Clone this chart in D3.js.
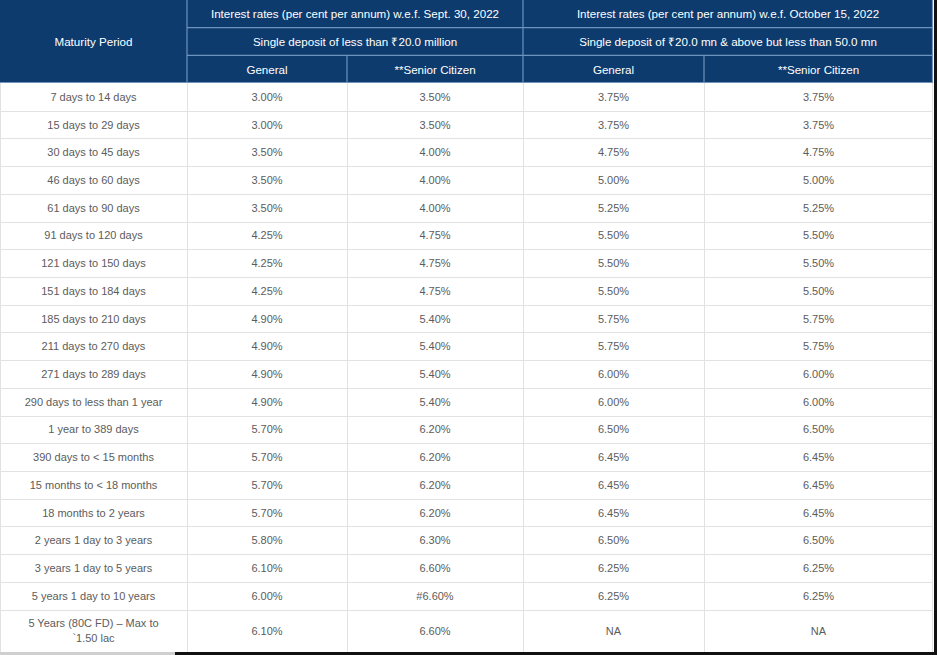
<!DOCTYPE html>
<html><head><meta charset="utf-8">
<script src="https://cdn.jsdelivr.net/npm/d3@7/dist/d3.min.js"></script>
<style>
html,body{margin:0;padding:0;background:#fff;overflow:hidden;}
svg{display:block;font-family:"Liberation Sans",Arial,sans-serif;}
</style></head>
<body>
<svg id="chart" width="937" height="655"></svg>
<script>
const periods = ["7 days to 14 days","15 days to 29 days","30 days to 45 days","46 days to 60 days","61 days to 90 days","91 days to 120 days","121 days to 150 days","151 days to 184 days","185 days to 210 days","211 days to 270 days","271 days to 289 days","290 days to less than 1 year","1 year to 389 days","390 days to < 15 months","15 months to < 18 months","18 months to 2 years","2 years 1 day to 3 years","3 years 1 day to 5 years","5 years 1 day to 10 years","5 Years (80C FD) – Max to\n`1.50 lac"];
const septGeneral = ["3.00%","3.00%","3.50%","3.50%","3.50%","4.25%","4.25%","4.25%","4.90%","4.90%","4.90%","4.90%","5.70%","5.70%","5.70%","5.70%","5.80%","6.10%","6.00%","6.10%"];
const septSenior = ["3.50%","3.50%","4.00%","4.00%","4.00%","4.75%","4.75%","4.75%","5.40%","5.40%","5.40%","5.40%","6.20%","6.20%","6.20%","6.20%","6.30%","6.60%","#6.60%","6.60%"];
const octGeneral = ["3.75%","3.75%","4.75%","5.00%","5.25%","5.50%","5.50%","5.50%","5.75%","5.75%","6.00%","6.00%","6.50%","6.45%","6.45%","6.45%","6.50%","6.25%","6.25%","NA"];
const octSenior = ["3.75%","3.75%","4.75%","5.00%","5.25%","5.50%","5.50%","5.50%","5.75%","5.75%","6.00%","6.00%","6.50%","6.45%","6.45%","6.45%","6.50%","6.25%","6.25%","NA"];
const headerTop = ["Interest rates (per cent per annum) w.e.f. Sept. 30, 2022","Interest rates (per cent per annum) w.e.f. October 15, 2022"];
const headerMid = ["Single deposit of less than ₹20.0 million","Single deposit of ₹20.0 mn & above but less than 50.0 mn"];
const headerSub = ["General","**Senior Citizen","General","**Senior Citizen"];
const firstHeader = "Maturity Period";

const svg = d3.select("#chart");
const W = 937, H = 655;
const tableRight = 933;
const colEdges = [0,187,347,523,704,tableRight];
const colX = i => colEdges[i];
const headerBg = "#0d3b6e", headerLine = "#6e93bd";
const hy = d3.scaleLinear().domain([0,3]).range([0,83]);
const nRegular = periods.length - 1;
const ry = d3.scaleLinear().domain([0,nRegular]).range([83,609.5]);
const rowTop = i => ry(i);
const rowBot = i => i < nRegular ? ry(i+1) : 652;

svg.append("rect").attr("x",0).attr("y",0).attr("width",tableRight).attr("height",hy(3)).attr("fill",headerBg);

const hl = svg.append("g").attr("stroke",headerLine).attr("stroke-width",1.2);
[1,2].forEach(r=>hl.append("line").attr("x1",colX(1)).attr("x2",tableRight).attr("y1",hy(r)).attr("y2",hy(r)));
hl.append("line").attr("x1",0).attr("x2",tableRight).attr("y1",hy(3)-0.5).attr("y2",hy(3)-0.5);
[1,3].forEach(c=>hl.append("line").attr("x1",colX(c)).attr("x2",colX(c)).attr("y1",0).attr("y2",hy(3)));
[2,4].forEach(c=>hl.append("line").attr("x1",colX(c)).attr("x2",colX(c)).attr("y1",hy(2)).attr("y2",hy(3)));
hl.append("line").attr("x1",tableRight-0.5).attr("x2",tableRight-0.5).attr("y1",0).attr("y2",hy(3));

const ht = svg.append("g").attr("fill","#fff").attr("font-size",11.6).attr("text-anchor","middle").attr("dominant-baseline","central");
ht.append("text").attr("x",(colX(0)+colX(1))/2).attr("y",hy(1.5)).text(firstHeader);
headerTop.forEach((t,i)=>ht.append("text").attr("x",(colX(1+2*i)+colX(3+2*i))/2).attr("y",hy(0.5)).text(t));
headerMid.forEach((t,i)=>ht.append("text").attr("x",(colX(1+2*i)+colX(3+2*i))/2).attr("y",hy(1.5)).text(t));
headerSub.forEach((t,i)=>ht.append("text").attr("x",(colX(1+i)+colX(2+i))/2).attr("y",hy(2.5)).text(t));

const gl = svg.append("g").attr("stroke","#e2e2e2").attr("stroke-width",1);
periods.forEach((p,i)=>{
  gl.append("line").attr("x1",0).attr("x2",tableRight).attr("y1",Math.round(rowBot(i))+0.5).attr("y2",Math.round(rowBot(i))+0.5);
});
colEdges.forEach((cx,i)=>{
  const xx = i===0 ? 0.5 : (i===5 ? cx-0.5 : cx+0.5);
  gl.append("line").attr("x1",xx).attr("x2",xx).attr("y1",hy(3)).attr("y2",652);
});

const cols = [periods, septGeneral, septSenior, octGeneral, octSenior];
const bt = svg.append("g").attr("fill","#5c5c5c").attr("font-size",11).attr("text-anchor","middle").attr("dominant-baseline","central");
cols.forEach((arr,c)=>{
  arr.forEach((v,i)=>{
    const cx = (colX(c)+colX(c+1))/2;
    const cy = (rowTop(i)+rowBot(i))/2;
    const lines = v.split("\n");
    lines.forEach((ln,k)=>{
      bt.append("text").attr("x",cx).attr("y",cy + (k-(lines.length-1)/2)*15).text(ln);
    });
  });
});

svg.append("rect").attr("x",tableRight+1).attr("y",0).attr("width",W-tableRight-1).attr("height",H).attr("fill","#111");
svg.append("rect").attr("x",0).attr("y",652).attr("width",175).attr("height",3).attr("fill","#cfcfcf");
svg.append("rect").attr("x",175).attr("y",652).attr("width",W-175).attr("height",3).attr("fill","#111");
</script>
</body></html>
